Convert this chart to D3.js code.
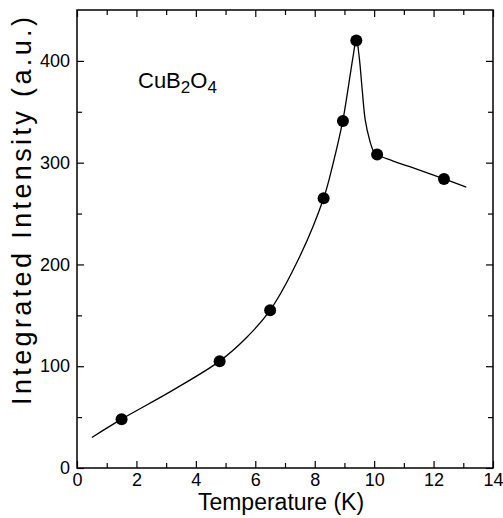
<!DOCTYPE html>
<html lang="en">
<head>
<meta charset="utf-8">
<title>CuB2O4 integrated intensity</title>
<script src="https://d3js.org/d3.v7.min.js"></script>
<style>
    body { margin: 0; background: #fff; }
    svg text { font-family: "Liberation Sans", Arial, Helvetica, sans-serif; fill: #000; }
    .axis path { display: none; }
    .axis line { stroke: #000; stroke-width: 1.2px; }
    .axis text { font-size: 18px; }
</style>
</head>
<body>
<svg></svg>
<script>
    // measured points
    var temps = [1.5, 4.8, 6.5, 8.3, 8.95, 9.4, 10.1, 12.35];
    var intensity = [48, 105, 155, 265, 341, 420, 308, 284];

    // guide line through the points
    var fitT = [0.5, 1.5, 3.2, 4.8, 5.7, 6.5, 7.5, 8.3, 8.6, 8.95, 9.15, 9.3, 9.4, 9.5, 9.6, 9.7, 9.85, 9.97, 10.1, 10.6, 11.2, 12.35, 13.1];
    var fitI = [30, 48, 76, 105, 128, 155, 208, 265, 297, 342, 378, 406, 422, 403, 371, 342, 322, 312, 308, 302, 296, 284, 276];

    var xMajor = [0, 2, 4, 6, 8, 10, 12, 14];
    var xMinor = [1, 3, 5, 7, 9, 11, 13];
    var yMajor = [0, 100, 200, 300, 400];
    var yMinor = [50, 150, 250, 350];

    var width = 503, height = 518;
    var svg = d3.select("svg").attr("width", width).attr("height", height);

    var x = d3.scaleLinear().domain([0, 14]).range([77, 493]);
    var y = d3.scaleLinear().domain([0, 450]).range([468, 10]);

    // ticks pointing inward on all four sides
    svg.append("g").attr("class", "axis")
        .attr("transform", "translate(0," + y(0) + ")")
        .call(d3.axisBottom(x).tickValues(xMajor).tickSize(-7).tickSizeOuter(0).tickPadding(5).tickFormat(d3.format("d")));
    svg.append("g").attr("class", "axis")
        .attr("transform", "translate(0," + y(0) + ")")
        .call(d3.axisBottom(x).tickValues(xMinor).tickSize(-5).tickSizeOuter(0).tickFormat(""));
    svg.append("g").attr("class", "axis")
        .attr("transform", "translate(0," + y(450) + ")")
        .call(d3.axisTop(x).tickValues(xMajor).tickSize(-7).tickSizeOuter(0).tickFormat(""));
    svg.append("g").attr("class", "axis")
        .attr("transform", "translate(0," + y(450) + ")")
        .call(d3.axisTop(x).tickValues(xMinor).tickSize(-5).tickSizeOuter(0).tickFormat(""));

    svg.append("g").attr("class", "axis")
        .attr("transform", "translate(" + x(0) + ",0)")
        .call(d3.axisLeft(y).tickValues(yMajor).tickSize(-7).tickSizeOuter(0).tickPadding(7).tickFormat(d3.format("d")));
    svg.append("g").attr("class", "axis")
        .attr("transform", "translate(" + x(0) + ",0)")
        .call(d3.axisLeft(y).tickValues(yMinor).tickSize(-5).tickSizeOuter(0).tickFormat(""));
    svg.append("g").attr("class", "axis")
        .attr("transform", "translate(" + x(14) + ",0)")
        .call(d3.axisRight(y).tickValues(yMajor).tickSize(-7).tickSizeOuter(0).tickFormat(""));
    svg.append("g").attr("class", "axis")
        .attr("transform", "translate(" + x(14) + ",0)")
        .call(d3.axisRight(y).tickValues(yMinor).tickSize(-5).tickSizeOuter(0).tickFormat(""));

    // frame
    svg.append("rect")
        .attr("x", x(0)).attr("y", y(450))
        .attr("width", x(14) - x(0)).attr("height", y(0) - y(450))
        .attr("fill", "none").attr("stroke", "#000").attr("stroke-width", 1.5);

    // guide curve
    var fit = fitT.map(function(t, i) { return [t, fitI[i]]; });
    var line = d3.line()
        .x(d => x(d[0]))
        .y(d => y(d[1]))
        .curve(d3.curveCatmullRom.alpha(0.5));
    svg.append("path")
        .datum(fit)
        .attr("d", line)
        .attr("fill", "none")
        .attr("stroke", "#000")
        .attr("stroke-width", 1.3);

    // points
    svg.append("g").selectAll("circle")
        .data(temps)
        .join("circle")
        .attr("cx", d => x(d))
        .attr("cy", (d, i) => y(intensity[i]))
        .attr("r", 6)
        .attr("fill", "#000");

    // axis titles
    svg.append("text")
        .attr("x", 281)
        .attr("y", 510)
        .attr("text-anchor", "middle")
        .attr("font-size", 23)
        .text("Temperature (K)");

    svg.append("text")
        .attr("transform", "translate(31," + 211 + ") rotate(-90)")
        .attr("text-anchor", "middle")
        .attr("font-size", 27)
        .attr("textLength", 388)
        .attr("lengthAdjust", "spacing")
        .text("Integrated Intensity (a.u.)");

    // compound label
    var lab = svg.append("text")
        .attr("x", 138)
        .attr("y", 88)
        .attr("font-size", 22);
    lab.append("tspan").text("CuB");
    lab.append("tspan").attr("font-size", 17).attr("dy", 5).text("2");
    lab.append("tspan").attr("dy", -5).text("O");
    lab.append("tspan").attr("font-size", 17).attr("dy", 5).text("4");
</script>
</body>
</html>
